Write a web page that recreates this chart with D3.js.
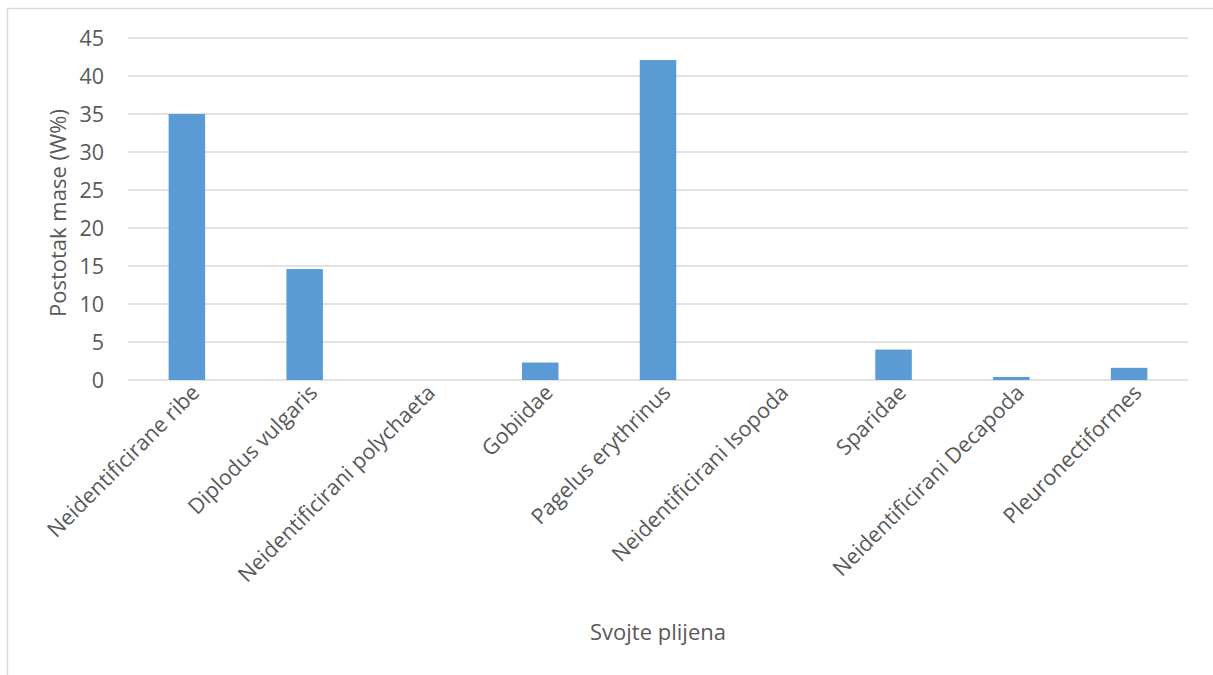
<!DOCTYPE html>
<html>
<head>
<meta charset="utf-8">
<script src="https://cdn.jsdelivr.net/npm/d3@7"></script>
<style>
  body { margin: 0; background: #fff; }
  text { font-family: "Open Sans", sans-serif; fill: #595959; }
</style>
</head>
<body>
<div id="chart"></div>
<script>
// prey taxa and mass percentage
const categories = [
    "Neidentificirane ribe", "Diplodus vulgaris", "Neidentificirani polychaeta",
    "Gobiidae", "Pagelus erythrinus", "Neidentificirani Isopoda",
    "Sparidae", "Neidentificirani Decapoda", "Pleuronectiformes"
];
const values = [35.0, 14.6, 0, 2.3, 42.1, 0, 4.0, 0.4, 1.6];
const yTicks = [0, 5, 10, 15, 20, 25, 30, 35, 40, 45];

const width = 1213, height = 675;
const margin = { left: 128, right: 25, top: 38, bottom: 295 };

const svg = d3.select("#chart")
    .append("svg")
    .attr("width", width)
    .attr("height", height);

// outer frame
svg.append("rect")
    .attr("x", 7.5).attr("y", 8.5)
    .attr("width", 1220).attr("height", 700)
    .style("fill", "none")
    .style("stroke", "#d9d9d9")
    .style("stroke-width", 1.5);

const x = d3.scaleBand()
    .domain(categories)
    .range([margin.left, width - margin.right])
    .paddingInner(0.69)
    .paddingOuter(0.345);

const y = d3.scaleLinear()
    .domain([0, 45])
    .range([height - margin.bottom, margin.top]);

// gridlines
svg.selectAll(".grid")
    .data(yTicks)
    .enter()
    .append("line")
    .attr("x1", margin.left)
    .attr("x2", width - margin.right)
    .attr("y1", d => y(d))
    .attr("y2", d => y(d))
    .style("stroke", "#d9d9d9")
    .style("stroke-width", 1.5);

// y tick labels
svg.selectAll(".ytick")
    .data(yTicks)
    .enter()
    .append("text")
    .attr("x", margin.left - 24)
    .attr("y", d => y(d))
    .attr("dy", "0.35em")
    .style("text-anchor", "end")
    .style("font-size", "21.5px")
    .text(d => d);

// x labels, rotated
svg.selectAll(".xlabel")
    .data(categories)
    .enter()
    .append("text")
    .attr("transform", d => `translate(${x(d) + x.bandwidth() / 2 + 14},${y(0) + 14}) rotate(-45)`)
    .style("text-anchor", "end")
    .style("font-size", "21.5px")
    .text(d => d);

// bars
svg.selectAll(".bar")
    .data(values)
    .enter()
    .append("rect")
    .attr("x", (d, i) => x(categories[i]))
    .attr("width", x.bandwidth())
    .attr("y", d => y(d))
    .attr("height", d => y(0) - y(d))
    .style("fill", "#5b9bd5");

// axis titles
svg.append("text")
    .attr("transform", `translate(66,${(margin.top + y(0)) / 2 + 4}) rotate(-90)`)
    .style("text-anchor", "middle")
    .style("font-size", "22px")
    .text("Postotak mase (W%)");

svg.append("text")
    .attr("x", (margin.left + width - margin.right) / 2)
    .attr("y", 640)
    .style("text-anchor", "middle")
    .style("font-size", "22px")
    .text("Svojte plijena");
</script>
</body>
</html>
